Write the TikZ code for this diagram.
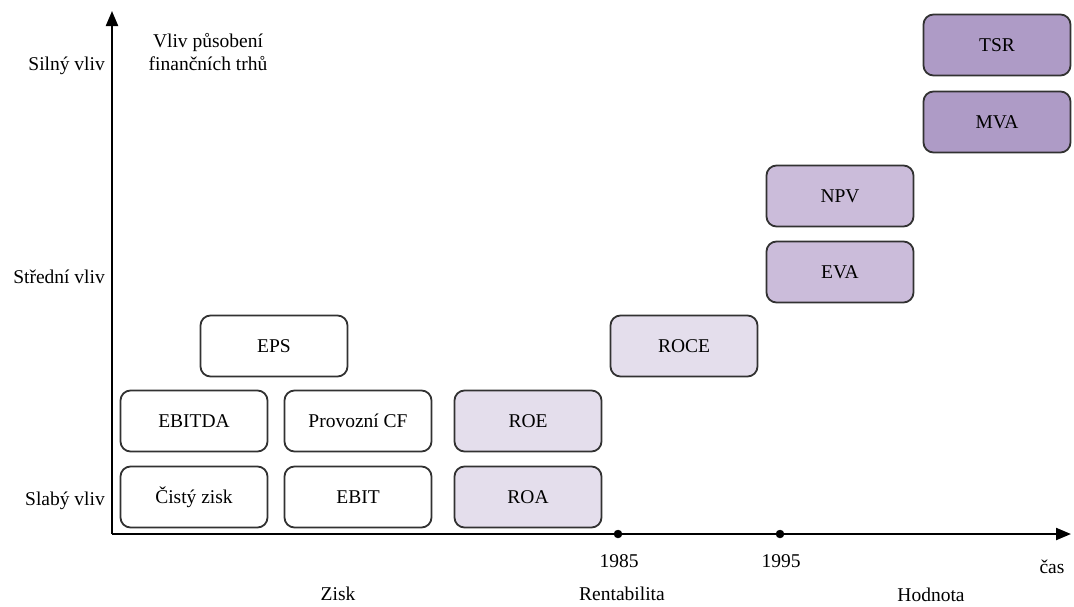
\documentclass[tikz,border=0pt]{standalone}
\usepackage{fontspec}
\setmainfont{Liberation Serif}
\usetikzlibrary{arrows.meta}
\definecolor{rentab}{RGB}{228,222,236}
\definecolor{hodn1}{RGB}{203,188,218}
\definecolor{hodn2}{RGB}{174,155,198}
\definecolor{okraj}{RGB}{50,50,50}

\begin{document}
\begin{tikzpicture}[%
      x=1pt,y=-1pt,
      >={Triangle[length=15pt,width=12pt]},
      font=\fontsize{19.5}{23}\selectfont,
      ukazatel/.style={draw=okraj, line width=1.8pt, rounded corners=10pt,
        minimum width=147pt, minimum height=61pt, inner sep=0pt},
      popis/.style={inner sep=0pt},
      ]
      \useasboundingbox (0,0) rectangle (1074,606);

      % osy
      \coordinate (origin) at (112,534);
      \coordinate (ytop) at (112,11);
      \coordinate (xend) at (1071,534);
      \draw [color=black, line width=2.2pt, ->] (origin) -- (ytop);
      \draw [color=black, line width=2.2pt, ->] (origin) -- (xend);

      \coordinate (r85) at (618,534);
      \coordinate (r95) at (780,534);
      \filldraw [color=black] (r85) circle (4pt);
      \filldraw [color=black] (r95) circle (4pt);

      % popisky os
      \node [popis, anchor=east] (silny) at (105,66) {Silný vliv};
      \node [popis, anchor=east] (stredni) at (105,277) {Střední vliv};
      \node [popis, anchor=east] (slaby) at (105,501) {Slabý vliv};
      \node [popis, align=center] (vliv) at (208,52) {Vliv působení\\finančních trhů};

      \node [popis] (t85) at (619,561) {1985};
      \node [popis] (t95) at (781,561) {1995};
      \node [popis] (cas) at (1052,567) {čas};
      \node [popis] (zisk) at (338,594) {Zisk};
      \node [popis] (rent) at (622,594) {Rentabilita};
      \node [popis] (hodn) at (931,595) {Hodnota};

      % zisk
      \node [ukazatel, fill=white] (cisty) at (194,497) {Čistý zisk};
      \node [ukazatel, fill=white] (ebit) at (358,497) {EBIT};
      \node [ukazatel, fill=white] (ebitda) at (194,421) {EBITDA};
      \node [ukazatel, fill=white] (provcf) at (358,421) {Provozní CF};
      \node [ukazatel, fill=white] (eps) at (274,346) {EPS};

      % rentabilita
      \node [ukazatel, fill=rentab] (roa) at (528,497) {ROA};
      \node [ukazatel, fill=rentab] (roe) at (528,421) {ROE};
      \node [ukazatel, fill=rentab] (roce) at (684,346) {ROCE};

      % hodnota
      \node [ukazatel, fill=hodn1] (eva) at (840,272) {EVA};
      \node [ukazatel, fill=hodn1] (npv) at (840,196) {NPV};
      \node [ukazatel, fill=hodn2] (mva) at (997,122) {MVA};
      \node [ukazatel, fill=hodn2] (tsr) at (997,45) {TSR};
      \end{tikzpicture}
\end{document}
